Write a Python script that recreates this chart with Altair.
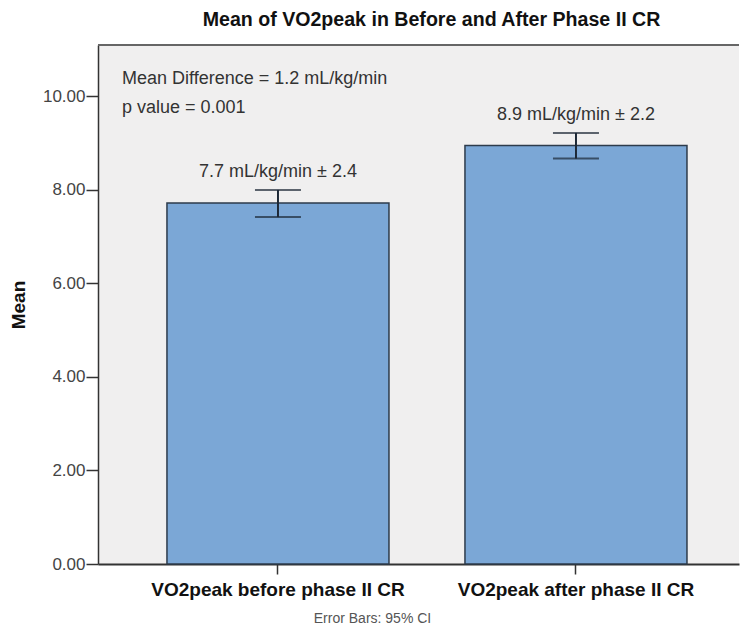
import altair as alt
import pandas as pd

categories = ["VO2peak before phase II CR", "VO2peak after phase II CR"]
means = [7.72, 8.95]
ci_low = [7.42, 8.67]
ci_high = [8.00, 9.22]
bar_labels = ["7.7 mL/kg/min \u00b1 2.4", "8.9 mL/kg/min \u00b1 2.2"]
note_lines = ["Mean Difference = 1.2 mL/kg/min", " p value = 0.001"]
y_ticks = [0, 2, 4, 6, 8, 10]

df = pd.DataFrame({"cat": categories, "mean": means, "lo": ci_low,
                   "hi": ci_high, "label": bar_labels})

W = 641
H = 519
FONT = "Liberation Sans"

xscale = alt.Scale(paddingInner=0.255, paddingOuter=0.203, align=0.57)
yscale = alt.Scale(domain=[0, 11.1], nice=False)

x = alt.X("cat:N", sort=categories, scale=xscale,
          axis=alt.Axis(title="Error Bars: 95% CI", labelAngle=0, labelLimit=0,
                        labelFont=FONT, labelFontSize=19, labelFontWeight="bold",
                        labelColor="#111", tickSize=10, tickColor="#333", tickWidth=1.5,
                        labelPadding=6, domainColor="#333", domainWidth=2,
                        titleFont=FONT, titleFontSize=14, titleFontWeight="normal",
                        titleColor="#555", titleX=274, titleY=47,
                        titleAlign="center"))
y = alt.Y("mean:Q", scale=yscale,
          axis=alt.Axis(title="Mean", values=y_ticks, format=".2f", grid=False,
                        labelFont=FONT, labelFontSize=17, labelColor="#444",
                        tickSize=12, tickColor="#333", tickWidth=1.5,
                        labelPadding=1, domainColor="#333", domainWidth=1.5,
                        titleFont=FONT, titleFontSize=19, titleFontWeight="bold",
                        titleColor="#111", titlePadding=14))

base = alt.Chart(df)

bars = base.mark_bar(color="#7BA7D6", stroke="#2d3b4b", strokeWidth=1.5).encode(x=x, y=y)

rule = base.mark_rule(color="#1c2836", strokeWidth=2).encode(
    x=alt.X("cat:N", sort=categories), y="lo:Q", y2="hi:Q")
cap_hi = base.mark_tick(orient="horizontal", size=46, thickness=2, color="#1c2836").encode(
    x=alt.X("cat:N", sort=categories), y="hi:Q")
cap_lo = base.mark_tick(orient="horizontal", size=46, thickness=2, color="#1c2836").encode(
    x=alt.X("cat:N", sort=categories), y="lo:Q")

labels = base.mark_text(font=FONT, fontSize=18, color="#333", baseline="bottom", dy=-9).encode(
    x=alt.X("cat:N", sort=categories), y="hi:Q", text="label:N")

notes = alt.Chart(pd.DataFrame({"d": [0]})).mark_text(
    font=FONT, fontSize=18, color="#333", align="left", baseline="top", lineHeight=29
).encode(x=alt.value(24), y=alt.value(25), text=alt.value(note_lines))

top_border = alt.Chart(pd.DataFrame({"d": [0]})).mark_rule(color="#666", strokeWidth=2).encode(
    x=alt.value(0), x2=alt.value(W), y=alt.value(0))

chart = alt.layer(bars, rule, cap_hi, cap_lo, labels, notes, top_border).properties(
    width=W, height=H,
    title=alt.TitleParams("Mean of VO2peak in Before and After Phase II CR",
                          font=FONT, fontSize=19.6, fontWeight="bold", color="#111",
                          anchor="middle", dx=13, offset=13),
    autosize=alt.AutoSizeParams(type="none"),
    padding={"left": 90, "top": 37, "right": 1, "bottom": 60},
).configure_view(fill="#F0EFEF", stroke=None)

chart.save("out.html", embed_options={"renderer": "svg", "actions": False})
